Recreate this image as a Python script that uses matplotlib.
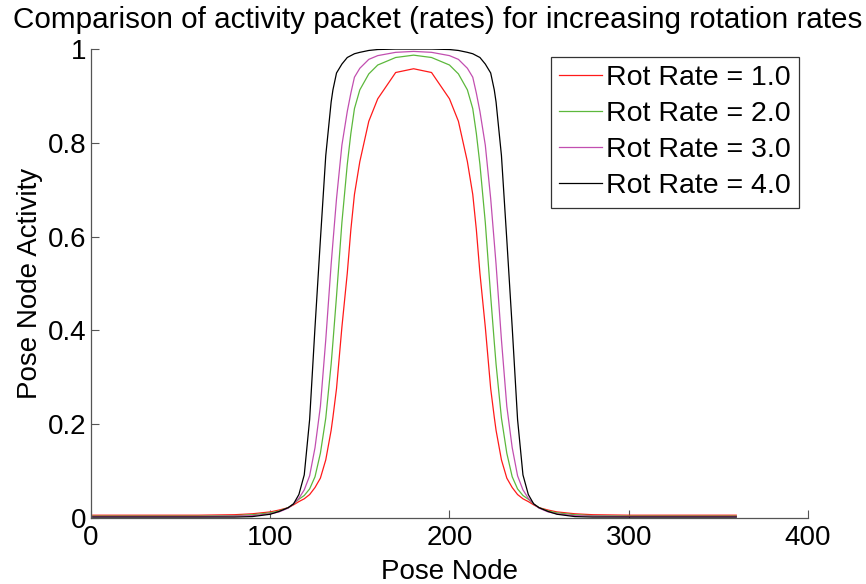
import matplotlib
matplotlib.use('Agg')
import matplotlib.pyplot as plt

matplotlib.rcParams.update({'font.size': 20, 'font.family': 'Liberation Sans'})

# pose nodes sampled along the packet (denser on the flanks)
nodes = [1, 20, 40, 60, 80, 90, 100, 105, 110, 113, 116, 119, 122, 125, 128,
         131, 134, 135, 137, 140, 143, 145, 147, 150, 155, 160, 170, 180,
         190, 200, 205, 210, 213, 215, 217, 220, 223, 225, 226, 229, 232, 235,
         238, 241, 244, 247, 250, 255, 260, 270, 280, 300, 320, 340, 360]

rate1 = [0.006, 0.006, 0.006, 0.006, 0.007, 0.009, 0.013, 0.017, 0.022, 0.028,
         0.035, 0.041, 0.050, 0.065, 0.085, 0.124, 0.187, 0.215, 0.276, 0.407,
         0.522, 0.615, 0.690, 0.760, 0.846, 0.894, 0.950, 0.958,
         0.950, 0.894, 0.846, 0.760, 0.690, 0.615, 0.522, 0.407, 0.276, 0.215,
         0.187, 0.124, 0.085, 0.065, 0.050, 0.041, 0.035, 0.028, 0.022, 0.017,
         0.013, 0.009, 0.007, 0.006, 0.006, 0.006, 0.006]

rate2 = [0.004, 0.004, 0.004, 0.004, 0.005, 0.007, 0.011, 0.015, 0.022, 0.030,
         0.040, 0.048, 0.062, 0.088, 0.138, 0.213, 0.328, 0.375, 0.473, 0.630,
         0.754, 0.820, 0.873, 0.913, 0.947, 0.966, 0.982, 0.987,
         0.982, 0.966, 0.947, 0.913, 0.873, 0.820, 0.754, 0.630, 0.473, 0.375,
         0.328, 0.213, 0.138, 0.088, 0.062, 0.048, 0.040, 0.030, 0.022, 0.015,
         0.011, 0.007, 0.005, 0.004, 0.004, 0.004, 0.004]

rate3 = [0.003, 0.003, 0.003, 0.003, 0.004, 0.005, 0.009, 0.013, 0.021, 0.030,
         0.042, 0.060, 0.090, 0.150, 0.238, 0.380, 0.541, 0.588, 0.681, 0.795,
         0.867, 0.906, 0.940, 0.959, 0.978, 0.986, 0.993, 0.995,
         0.993, 0.986, 0.978, 0.959, 0.940, 0.906, 0.867, 0.795, 0.681, 0.588,
         0.541, 0.380, 0.238, 0.150, 0.090, 0.060, 0.042, 0.030, 0.021, 0.013,
         0.009, 0.005, 0.004, 0.003, 0.003, 0.003, 0.003]

rate4 = [0.002, 0.002, 0.002, 0.002, 0.002, 0.003, 0.008, 0.014, 0.022, 0.030,
         0.050, 0.092, 0.210, 0.407, 0.593, 0.773, 0.887, 0.913, 0.949, 0.968,
         0.982, 0.986, 0.990, 0.993, 0.997, 0.999, 1.000, 1.000,
         1.000, 0.999, 0.997, 0.993, 0.990, 0.986, 0.982, 0.968, 0.949, 0.913,
         0.887, 0.773, 0.593, 0.407, 0.210, 0.092, 0.050, 0.030, 0.022, 0.014,
         0.008, 0.003, 0.002, 0.002, 0.002, 0.002, 0.002]

labels = ['Rot Rate = 1.0', 'Rot Rate = 2.0', 'Rot Rate = 3.0', 'Rot Rate = 4.0']
colors = ['#ff1a1a', '#5cb83c', '#c24fb0', 'black']

fig = plt.figure(figsize=(8.66, 5.84), dpi=100)
ax = fig.add_axes([0.105, 0.113, 0.828, 0.803])

for y, lab, c in zip([rate1, rate2, rate3, rate4], labels, colors):
    ax.plot(nodes, y, color=c, lw=0.9, label=lab)

ax.set_xlim(0, 400)
ax.set_ylim(0, 1)
ax.set_xticks([0, 100, 200, 300, 400])
ax.set_yticks([0, 0.2, 0.4, 0.6, 0.8, 1])
ax.set_yticklabels(['0', '0.2', '0.4', '0.6', '0.8', '1'])

for s in ['top', 'right']:
    ax.spines[s].set_visible(False)
for s in ['left', 'bottom']:
    ax.spines[s].set_color('#555555')
    ax.spines[s].set_linewidth(0.9)
ax.tick_params(direction='in', length=6, color='#555555')
ax.tick_params(axis='x', pad=5)
ax.tick_params(axis='y', pad=3)

ax.set_xlabel('Pose Node', labelpad=6)
ax.set_ylabel('Pose Node Activity', labelpad=4)
fig.text(438 / 866, 1 - 20 / 584,
         'Comparison of activity packet (rates) for increasing rotation rates',
         fontsize=21.3, ha='center', va='center')

leg = ax.legend(loc='upper right', bbox_to_anchor=(0.988, 0.984), frameon=True,
                fancybox=False, handlelength=1.5, handletextpad=0.15,
                borderpad=0.3, labelspacing=0.35, borderaxespad=0,
                fontsize=20.5)
leg.get_frame().set_edgecolor('black')
leg.get_frame().set_linewidth(0.9)

plt.savefig('out.png', dpi=100)
